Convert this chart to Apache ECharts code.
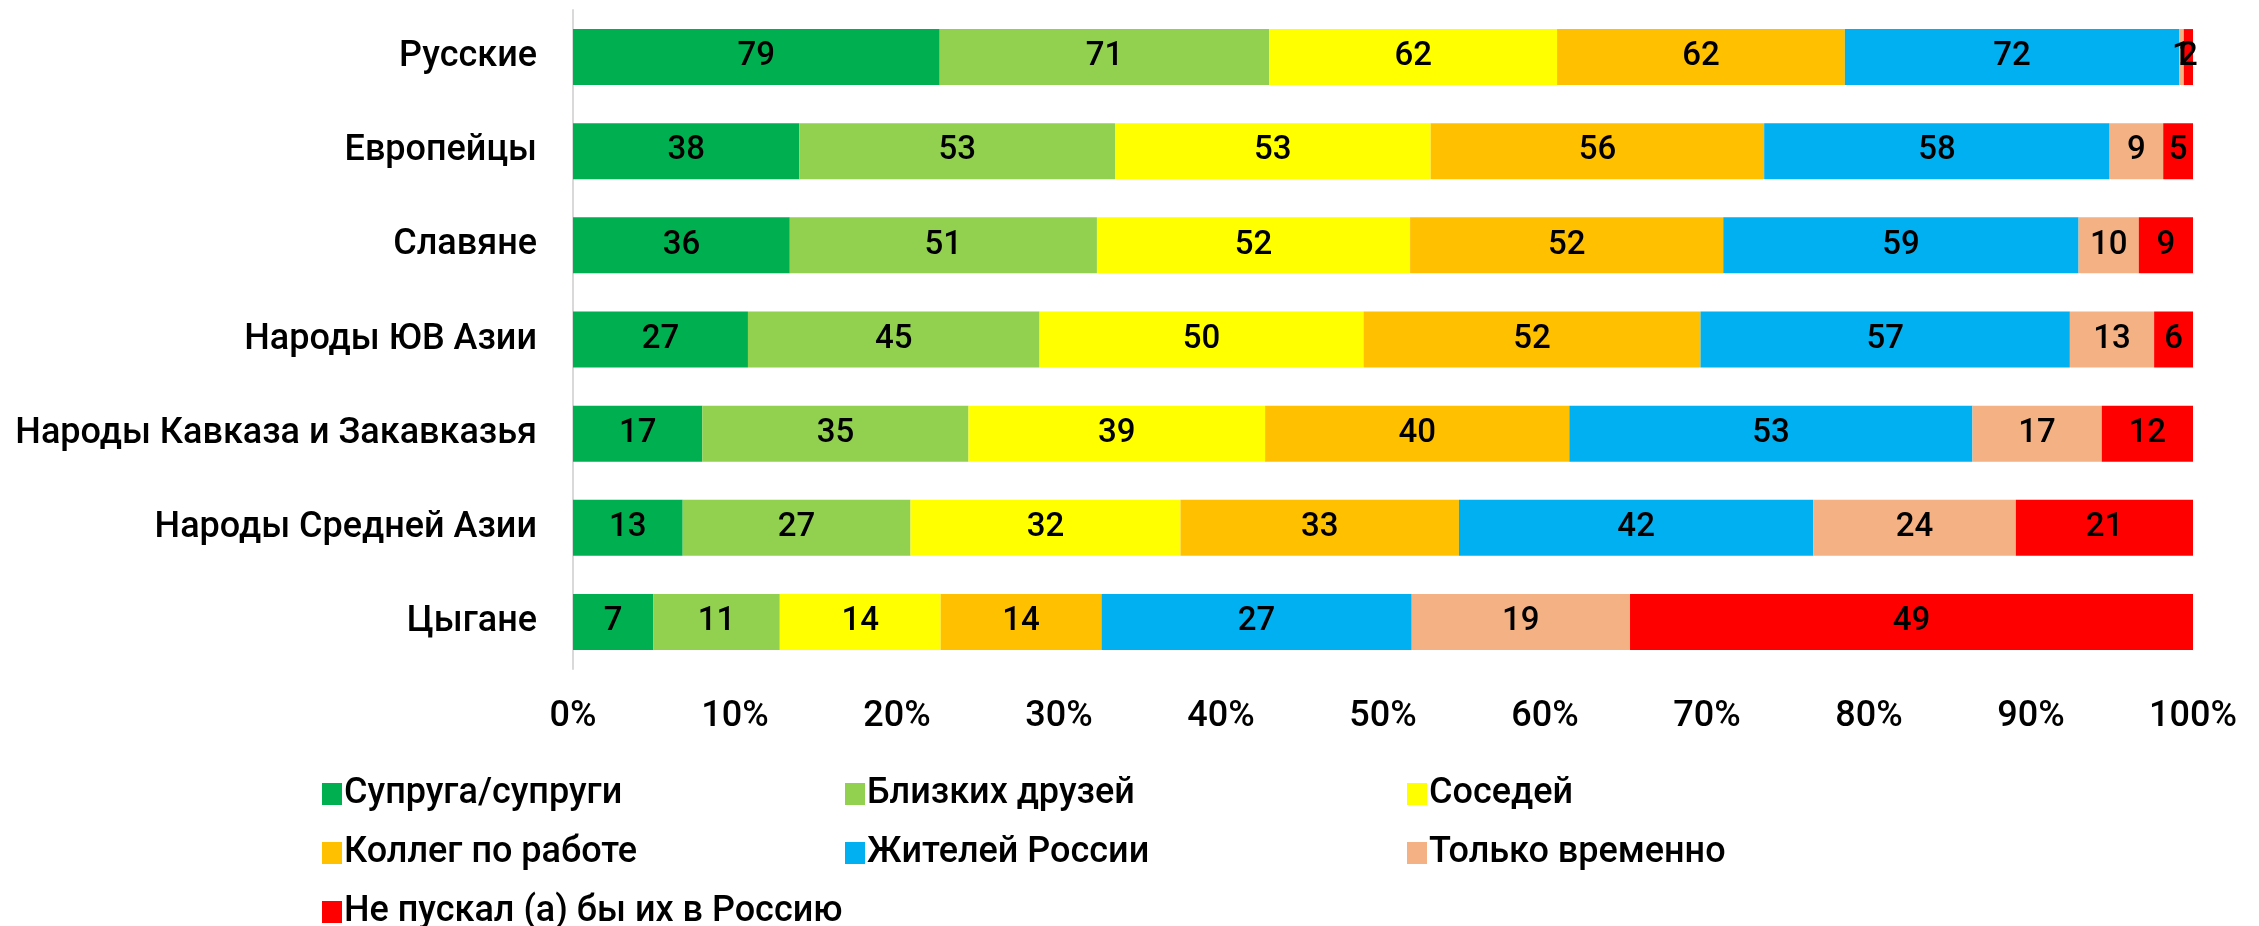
<!DOCTYPE html>
<html>
<head>
<meta charset="utf-8">
<script src="https://cdn.jsdelivr.net/npm/echarts@6/dist/echarts.min.js"></script>
<style>
  html, body { margin: 0; padding: 0; background: #fff; }
  #chart { width: 2259px; height: 926px; }
</style>
</head>
<body>
<div id="chart"></div>
<script>
var categories = [
  'Русские',
  'Европейцы',
  'Славяне',
  'Народы ЮВ Азии',
  'Народы Кавказа и Закавказья',
  'Народы Средней Азии',
  'Цыгане'
];

var seriesNames = [
  'Супруга/супруги',
  'Близких друзей',
  'Соседей',
  'Коллег по работе',
  'Жителей России',
  'Только временно',
  'Не пускал (а) бы их в Россию'
];

var colors = ['#00b050', '#92d050', '#ffff00', '#ffc000', '#00b0f0', '#f4b183', '#ff0000'];

// raw answers per group, one array per answer
var spouse     = [79, 38, 36, 27, 17, 13, 7];
var friends    = [71, 53, 51, 45, 35, 27, 11];
var neighbours = [62, 53, 52, 50, 39, 32, 14];
var colleagues = [62, 56, 52, 52, 40, 33, 14];
var residents  = [72, 58, 59, 57, 53, 42, 27];
var temporary  = [1, 9, 10, 13, 17, 24, 19];
var notAllowed = [2, 5, 9, 6, 12, 21, 49];

var tickLabels = ['0%', '10%', '20%', '30%', '40%', '50%', '60%', '70%', '80%', '90%', '100%'];

var rawValues = [spouse, friends, neighbours, colleagues, residents, temporary, notAllowed];

var rowTotals = categories.map(function (c, i) {
  return rawValues.reduce(function (s, arr) { return s + arr[i]; }, 0);
});

var FONT = 'Roboto';
var WEIGHT = 500;

var chart = echarts.init(document.getElementById('chart'), null, {renderer: 'canvas'});

var series = seriesNames.map(function (name, k) {
  return {
    name: name,
    type: 'bar',
    stack: 'total',
    barWidth: 56,
    itemStyle: {color: colors[k]},
    label: {
      show: true,
      position: 'inside',
      color: '#000',
      fontFamily: FONT,
      fontWeight: WEIGHT,
      fontSize: 33,
      formatter: function (p) { return rawValues[k][p.dataIndex]; }
    },
    data: rawValues[k].map(function (v, i) { return v / rowTotals[i] * 100; })
  };
});

function columnLegend(names, left) {
  return {
    orient: 'vertical',
    left: left,
    top: 771,
    height: 200,
    itemWidth: 20,
    itemHeight: 22,
    itemGap: 23,
    icon: 'rect',
    selectedMode: false,
    data: names,
    textStyle: {fontFamily: FONT, fontWeight: WEIGHT, fontSize: 36, color: '#000', lineHeight: 36, padding: [0, 0, 0, -3]}
  };
}

var option = {
  animation: false,
  color: colors,
  grid: {left: 573, right: 66, top: 10, bottom: 257},
  xAxis: {
    type: 'value',
    min: 0,
    max: 100,
    interval: 10,
    axisLine: {show: false},
    axisTick: {show: false},
    splitLine: {show: false},
    axisLabel: {
      margin: 30,
      fontFamily: FONT,
      fontWeight: WEIGHT,
      fontSize: 36,
      color: '#000',
      formatter: function (v) { return tickLabels[Math.round(v / 10)]; }
    }
  },
  yAxis: {
    type: 'category',
    inverse: true,
    data: categories,
    axisLine: {show: true, lineStyle: {color: '#d9d9d9', width: 2}},
    axisTick: {show: false},
    axisLabel: {margin: 36, fontFamily: FONT, fontWeight: WEIGHT, fontSize: 36, color: '#000', padding: [4, 0, 0, 0]}
  },
  legend: [
    columnLegend([seriesNames[0], seriesNames[3], seriesNames[6]], 317),
    columnLegend([seriesNames[1], seriesNames[4]], 840),
    columnLegend([seriesNames[2], seriesNames[5]], 1402)
  ],
  series: series
};

chart.setOption(option);
</script>
</body>
</html>
